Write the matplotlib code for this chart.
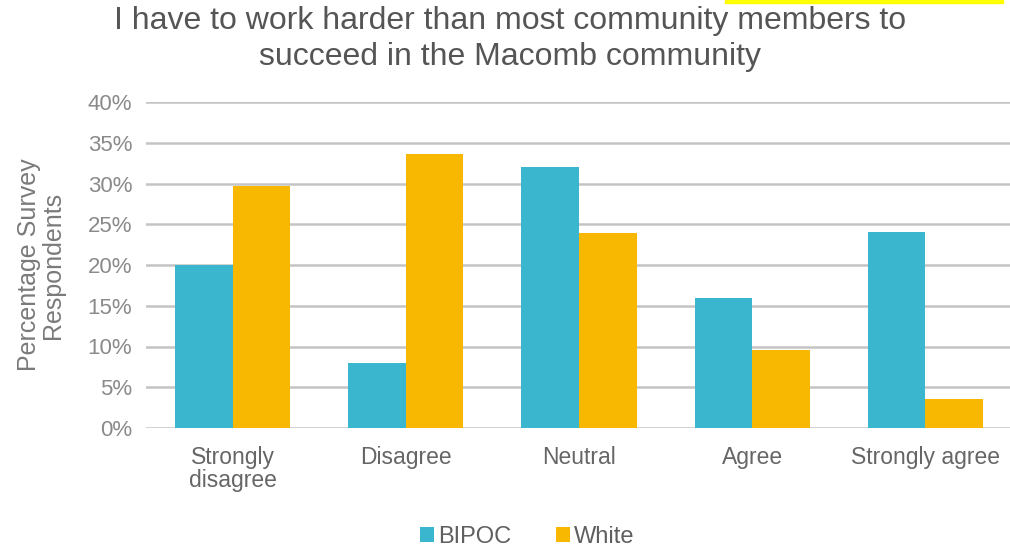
import matplotlib.pyplot as plt
import matplotlib.patches as mpatches
import numpy as np

plt.rcParams["font.family"] = ["Liberation Sans", "DejaVu Sans"]

categories = ["Strongly\ndisagree", "Disagree", "Neutral", "Agree", "Strongly agree"]
bipoc = [20.0, 8.0, 32.0, 16.0, 24.0]
white = [29.7, 33.6, 23.9, 9.6, 3.6]
y_ticks = [0, 5, 10, 15, 20, 25, 30, 35, 40]

BIPOC_COLOR = "#3BB6CF"
WHITE_COLOR = "#F8B700"

fig = plt.figure(figsize=(10.1, 5.5), dpi=100)
ax = fig.add_axes([146 / 1010, 1 - 428 / 550, 866 / 1010, 326 / 550])

x = np.arange(len(categories))
w = 0.333
ax.bar(x - w / 2, bipoc, w, color=BIPOC_COLOR, label="BIPOC", zorder=3)
ax.bar(x + w / 2, white, w, color=WHITE_COLOR, label="White", zorder=3)

ax.set_xlim(-0.5, len(categories) - 0.5)
ax.set_ylim(0, 40)
ax.set_yticks(y_ticks)
ax.set_yticklabels([f"{t}%" for t in y_ticks])
ax.set_xticks(x)
ax.set_xticklabels(categories, va="top", linespacing=1.0)
ax.tick_params(axis="y", length=0, pad=10, labelsize=16, labelcolor="#8a8a8a")
ax.tick_params(axis="x", length=0, pad=13, labelsize=16.5, labelcolor="#666666")
ax.grid(True, axis="y", color="#c4c4c4", linewidth=1.8, zorder=0)
for s in ax.spines.values():
    s.set_visible(False)

ax.set_ylabel("Percentage Survey\nRespondents", fontsize=18, color="#7a7a7a",
              labelpad=16, linespacing=1.0)

fig.text(0.505, 1 - 39 / 550, "I have to work harder than most community members to\n"
         "succeed in the Macomb community", ha="center", va="center",
         fontsize=23, color="#555555", linespacing=1.3)

# highlight strip along the top edge
fig.patches.append(mpatches.Rectangle((725 / 1010, 1 - 3 / 550), 278 / 1010, 3 / 550,
                                      transform=fig.transFigure, color="#FFFF00",
                                      zorder=5))

fig.legend(loc="center", bbox_to_anchor=(0.522, 1 - 537 / 550), ncol=2, frameon=False,
           fontsize=17, handlelength=0.6, handleheight=0.6, handletextpad=0.15,
           columnspacing=1.9, labelcolor="#5f5f5f")

fig.savefig("out.png", dpi=100, facecolor="white")
